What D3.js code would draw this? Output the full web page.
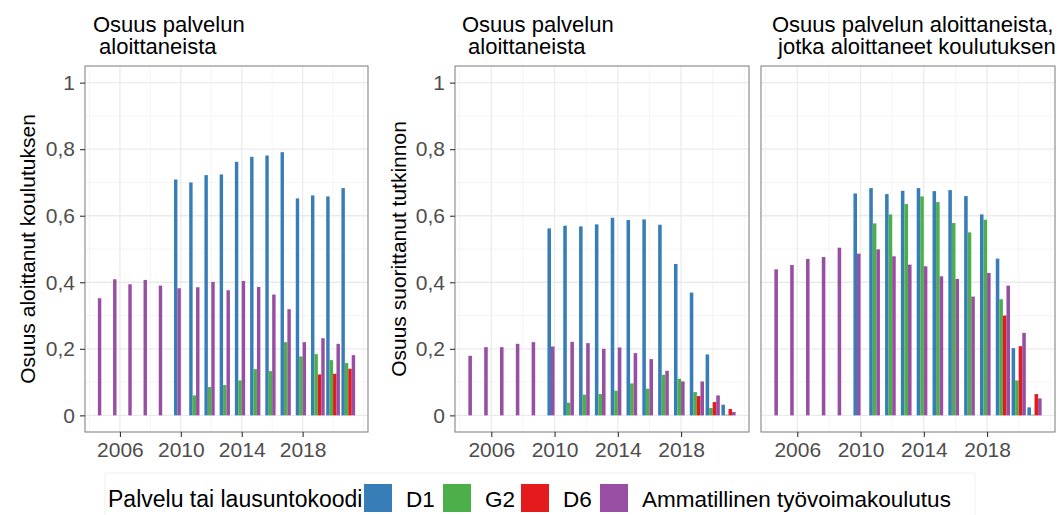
<!DOCTYPE html>
<html>
<head>
<meta charset="utf-8">
<script src="https://cdn.jsdelivr.net/npm/d3@7"></script>
<style>
  html, body { margin: 0; padding: 0; background: #fff; }
  svg { display: block; font-family: "Liberation Sans", Arial, sans-serif; }
</style>
</head>
<body>
<svg id="chart" width="1058" height="515"></svg>
<script>
// ---------- DATA ----------
const years = [2005, 2006, 2007, 2008, 2009, 2010, 2011, 2012, 2013, 2014, 2015, 2016, 2017, 2018, 2019, 2020, 2021];
const seriesKeys = ["D1", "G2", "D6", "Ammatillinen työvoimakoulutus"];
const seriesColors = ["#377EB8", "#4DAF4A", "#E41A1C", "#984EA3"];
const xTickValues = [2006, 2010, 2014, 2018];
const xMinorValues = [2004, 2008, 2012, 2016, 2020, 2022];
const yTickValues = [0, 0.2, 0.4, 0.6, 0.8, 1];
const yTickLabels = ["0", "0,2", "0,4", "0,6", "0,8", "1"];
const yMinorValues = [0.1, 0.3, 0.5, 0.7, 0.9];
const legendTitle = "Palvelu tai lausuntokoodi";

// Panel 1: Osuus aloittanut koulutuksen
const p1_D1 = [null, null, null, null, null, 0.709, 0.700, 0.722, 0.724, 0.762, 0.777, 0.781, 0.791, 0.652, 0.661, 0.658, 0.683];
const p1_G2 = [null, null, null, null, null, null, 0.060, 0.085, 0.091, 0.105, 0.139, 0.133, 0.220, 0.177, 0.184, 0.166, 0.157];
const p1_D6 = [null, null, null, null, null, null, null, null, null, null, null, null, null, null, 0.123, 0.125, 0.140];
const p1_AT = [0.352, 0.409, 0.394, 0.407, 0.390, 0.382, 0.385, 0.401, 0.376, 0.404, 0.386, 0.363, 0.319, 0.220, 0.232, 0.215, 0.181];

// Panel 2: Osuus suorittanut tutkinnon
const p2_D1 = [null, null, null, null, null, 0.562, 0.570, 0.568, 0.574, 0.594, 0.587, 0.589, 0.573, 0.455, 0.369, 0.183, 0.032];
const p2_G2 = [null, null, null, null, null, null, 0.038, 0.062, 0.064, 0.074, 0.096, 0.080, 0.122, 0.110, 0.070, 0.022, 0.002];
const p2_D6 = [null, null, null, null, null, null, null, null, null, null, null, null, null, null, 0.058, 0.040, 0.019];
const p2_AT = [0.179, 0.205, 0.205, 0.215, 0.220, 0.207, 0.221, 0.217, 0.200, 0.204, 0.187, 0.169, 0.134, 0.102, 0.102, 0.060, 0.010];

// Panel 3: Osuus suorittanut tutkinnon (aloittaneet koulutuksen)
const p3_D1 = [null, null, null, null, null, 0.667, 0.683, 0.665, 0.675, 0.683, 0.674, 0.677, 0.659, 0.604, 0.471, 0.202, 0.024];
const p3_G2 = [null, null, null, null, null, null, 0.577, 0.604, 0.635, 0.658, 0.641, 0.578, 0.550, 0.588, 0.349, 0.105, 0.002];
const p3_D6 = [null, null, null, null, null, null, null, null, null, null, null, null, null, null, 0.300, 0.208, 0.064];
const p3_AT = [0.439, 0.452, 0.470, 0.476, 0.504, 0.486, 0.499, 0.478, 0.453, 0.448, 0.418, 0.410, 0.357, 0.428, 0.390, 0.248, 0.051];

const panels = [
  { title: ["Osuus palvelun", " aloittaneista"], yLabel: "Osuus aloittanut koulutuksen",
    series: [p1_D1, p1_G2, p1_D6, p1_AT], left: 85, right: 368, titleX: 93, yLabelX: 35, showY: true },
  { title: ["Osuus palvelun", " aloittaneista"], yLabel: "Osuus suorittanut tutkinnon",
    series: [p2_D1, p2_G2, p2_D6, p2_AT], left: 455, right: 749, titleX: 462, yLabelX: 406, showY: true },
  { title: ["Osuus palvelun aloittaneista,", " jotka aloittaneet koulutuksen"], yLabel: null,
    series: [p3_D1, p3_G2, p3_D6, p3_AT], left: 761, right: 1055, titleX: 772, yLabelX: 0, showY: false }
];

// ---------- DRAW ----------
const svg = d3.select("#chart");
const pTop = 66, pBottom = 432;
const dodgeWidth = 0.9, nSlots = seriesKeys.length;
const xDomain = [2004.55 - 0.845, 2021.45 + 0.845];
const y = d3.scaleLinear().domain([-0.05, 1.05]).range([pBottom, pTop]);
const tickColor = "#4D4D4D";

panels.forEach(p => {
  const x = d3.scaleLinear().domain(xDomain).range([p.left, p.right]);
  const g = svg.append("g");
  const w = p.right - p.left, h = pBottom - pTop;

  g.append("rect").attr("x", p.left).attr("y", pTop).attr("width", w).attr("height", h).attr("fill", "#fff");

  // minor grid
  g.selectAll(".ymin").data(yMinorValues).enter().append("line")
    .attr("x1", p.left).attr("x2", p.right).attr("y1", d => y(d)).attr("y2", d => y(d))
    .attr("stroke", "#F2F2F2").attr("stroke-width", 0.8);
  g.selectAll(".xmin").data(xMinorValues.filter(v => x(v) > p.left && x(v) < p.right)).enter().append("line")
    .attr("x1", d => x(d)).attr("x2", d => x(d)).attr("y1", pTop).attr("y2", pBottom)
    .attr("stroke", "#F2F2F2").attr("stroke-width", 0.8);
  // major grid
  g.selectAll(".ymaj").data(yTickValues).enter().append("line")
    .attr("x1", p.left).attr("x2", p.right).attr("y1", d => y(d)).attr("y2", d => y(d))
    .attr("stroke", "#EBEBEB").attr("stroke-width", 1.3);
  g.selectAll(".xmaj").data(xTickValues).enter().append("line")
    .attr("x1", d => x(d)).attr("x2", d => x(d)).attr("y1", pTop).attr("y2", pBottom)
    .attr("stroke", "#EBEBEB").attr("stroke-width", 1.3);

  // bars (dodged, present series fill slots from the left)
  const slotW = dodgeWidth / nSlots;
  const bars = [];
  years.forEach((yr, i) => {
    let idx = 0;
    p.series.forEach((arr, s) => {
      const v = arr[i];
      if (v !== null && v !== undefined) {
        bars.push({ yr, v, s, idx });
        idx++;
      }
    });
  });
  g.selectAll(".bar").data(bars).enter().append("rect")
    .attr("x", d => x(d.yr - dodgeWidth / 2 + d.idx * slotW))
    .attr("width", d => x(d.yr - dodgeWidth / 2 + (d.idx + 1) * slotW) - x(d.yr - dodgeWidth / 2 + d.idx * slotW))
    .attr("y", d => y(d.v))
    .attr("height", d => y(0) - y(d.v))
    .attr("fill", d => seriesColors[d.s]);

  // panel border
  g.append("rect").attr("x", p.left).attr("y", pTop).attr("width", w).attr("height", h)
    .attr("fill", "none").attr("stroke", "#858585").attr("stroke-width", 1.1);

  // x axis
  const xAxis = d3.axisBottom(x).tickValues(xTickValues).tickFormat(d3.format("d")).tickSize(5).tickPadding(5);
  const xg = g.append("g").attr("transform", `translate(0,${pBottom})`).call(xAxis);
  xg.select(".domain").remove();
  xg.selectAll(".tick line").attr("stroke", "#333").attr("stroke-width", 1.1);
  xg.selectAll(".tick text").attr("fill", tickColor).attr("font-size", 21)
    .attr("font-family", "Liberation Sans, Arial, sans-serif");

  // y axis
  if (p.showY) {
    const yAxis = d3.axisLeft(y).tickValues(yTickValues).tickFormat((d, i) => yTickLabels[i]).tickSize(5).tickPadding(5);
    const yg = g.append("g").attr("transform", `translate(${p.left},0)`).call(yAxis);
    yg.select(".domain").remove();
    yg.selectAll(".tick line").attr("stroke", "#333").attr("stroke-width", 1.1);
    yg.selectAll(".tick text").attr("fill", tickColor).attr("font-size", 21)
      .attr("font-family", "Liberation Sans, Arial, sans-serif");
  }
  if (p.yLabel) {
    g.append("text")
      .attr("transform", `translate(${p.yLabelX},${(pTop + pBottom) / 2}) rotate(-90)`)
      .attr("text-anchor", "middle").attr("font-size", 21).attr("fill", "#000")
      .text(p.yLabel);
  }

  // title
  p.title.forEach((line, li) => {
    g.append("text").attr("x", p.titleX).attr("y", 31.5 + li * 22.7)
      .attr("font-size", 22).attr("fill", "#000")
      .style("white-space", "pre")
      .text(line);
  });
});

// ---------- LEGEND ----------
const lg = svg.append("g");
lg.append("rect").attr("x", 105).attr("y", 473).attr("width", 870).attr("height", 60)
  .attr("fill", "#fff").attr("stroke", "#F0F0F0").attr("stroke-width", 1);
lg.append("text").attr("x", 108).attr("y", 507).attr("font-size", 23).attr("fill", "#000").text(legendTitle);
const keyX = [364, 443, 521, 600];
seriesKeys.forEach((k, i) => {
  lg.append("rect").attr("x", keyX[i]).attr("y", 484).attr("width", 28).attr("height", 28)
    .attr("fill", seriesColors[i]);
  lg.append("text").attr("x", keyX[i] + 42).attr("y", 507).attr("font-size", 22.5).attr("fill", "#000").text(k);
});
</script>
</body>
</html>
